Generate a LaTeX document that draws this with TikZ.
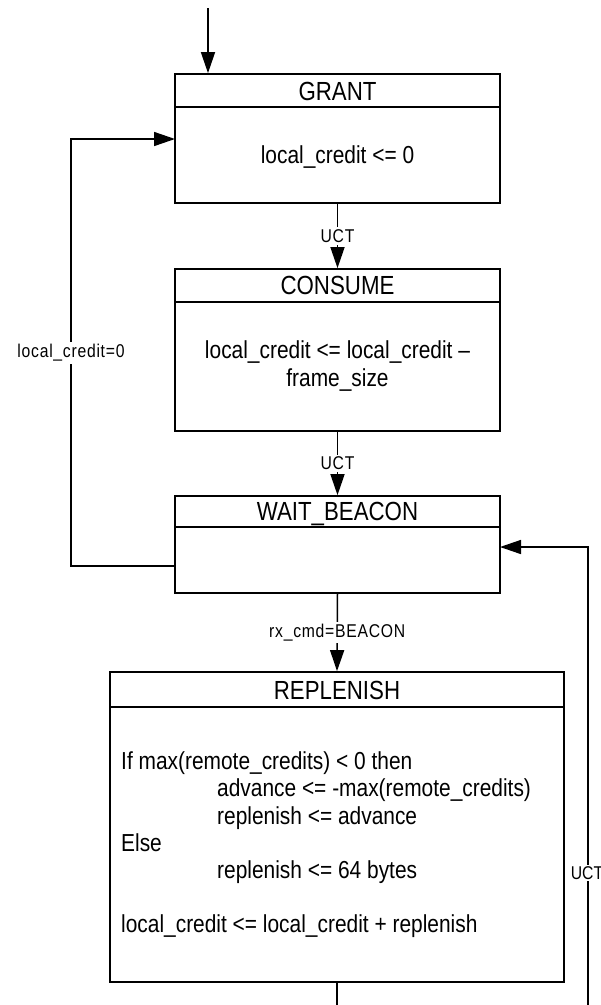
\documentclass[tikz,border=0pt]{standalone}
\usepackage{fontspec}
\setmainfont{Liberation Sans}
\newfontfamily\narrowsans{Liberation Sans}[FakeStretch=0.85]
\newfontfamily\labelsans{Liberation Sans}[FakeStretch=0.85,LetterSpace=4]
\usetikzlibrary{arrows.meta}
\tikzset{
  statebox/.style={draw, line width=1.7pt, rectangle, inner sep=0pt},
  divider/.style={line width=1.7pt},
  headtxt/.style={font={\narrowsans\fontsize{26.2}{30}\selectfont}, anchor=base, inner sep=0pt},
  bodytxt/.style={font={\narrowsans\fontsize{24.6}{27.2}\selectfont}, inner sep=0pt},
  lbl/.style={font={\labelsans\fontsize{18.5}{20}\selectfont}, fill=white, inner sep=2pt},
  conn/.style={line width=1.5pt},
  arr/.style={conn, -{Triangle[length=21pt,width=14pt]}},
}
\begin{document}
\begin{tikzpicture}[x=1pt,y=-1pt]
\useasboundingbox (0,0) rectangle (601,1005);

% states
\node[statebox, minimum width=325pt, minimum height=129pt] (grant) at (337.5,138.5) {};
\node[statebox, minimum width=325pt, minimum height=162pt] (consume) at (337.5,350) {};
\node[statebox, minimum width=325pt, minimum height=97pt] (wait) at (337.5,544.5) {};
\node[statebox, minimum width=454pt, minimum height=310pt] (repl) at (337,827) {};

% dividers
\draw[divider] (grant.west |- 0,107) -- (grant.east |- 0,107);
\draw[divider] (consume.west |- 0,302) -- (consume.east |- 0,302);
\draw[divider] (wait.west |- 0,527) -- (wait.east |- 0,527);
\draw[divider] (repl.west |- 0,707) -- (repl.east |- 0,707);

% headers
\node[headtxt] (grantH) at (337.5,100) {GRANT};
\node[headtxt] (consumeH) at (337.5,294) {CONSUME};
\node[headtxt] (waitH) at (337.5,520) {WAIT\_BEACON};
\node[headtxt] (replH) at (337,699) {REPLENISH};

% bodies
\node[bodytxt, anchor=base] (grantB) at (337.5,163) {local\_credit <= 0};
\node[bodytxt, align=center] (consumeB) at (337.5,366) {local\_credit <= local\_credit \textendash\\ frame\_size};
\node[bodytxt, align=left, anchor=west] (replB) at (121,845) {If max(remote\_credits) < 0 then\\
\hspace*{96pt}advance <= -max(remote\_credits)\\
\hspace*{96pt}replenish <= advance\\
Else\\
\hspace*{96pt}replenish <= 64 bytes\\[27.2pt]
local\_credit <= local\_credit + replenish};

% connectors
\coordinate (start) at (208,8);
\draw[arr] (start) -- (start |- grant.north);
\draw[arr] (grant.south) -- node[lbl] (l1) {UCT} (consume.north);
\draw[arr] (consume.south) -- node[lbl] (l2) {UCT} (wait.north);
\draw[arr] (wait.south) -- node[lbl] (l3) {rx\_cmd=BEACON} (repl.north);

% loop back to GRANT
\coordinate (wl) at (175,566);
\coordinate (gl) at (175,139);
\draw[arr] (wl) -- (71,566) -- (71,139) -- (gl);
\node[lbl] (l4) at (71,353) {local\_credit=0};

% loop from REPLENISH back to WAIT_BEACON
\coordinate (rbot) at (337,1006);
\draw[conn] (repl.south) -- (rbot);
\coordinate (rr) at (588,1006);
\coordinate (wr) at (500,547);
\draw[arr] (rr) -- (588,547) -- (wr);
\node[lbl, font={\narrowsans\fontsize{18.5}{20}\selectfont}, inner sep=1pt] (l5) at (587,873) {UCT};
\end{tikzpicture}
\end{document}
